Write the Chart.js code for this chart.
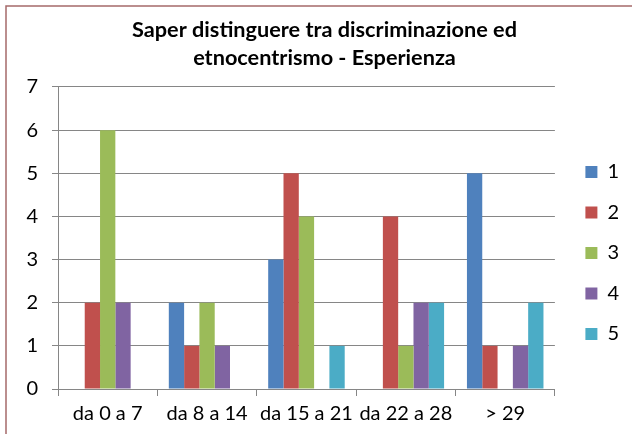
<!DOCTYPE html>
<html>
<head>
<meta charset="utf-8">
<script src="https://cdn.jsdelivr.net/npm/chart.js@4.4.1/dist/chart.umd.min.js"></script>
<style>
    html, body { margin: 0; padding: 0; background: #fff; }
    #wrap { width: 632px; height: 434px; position: relative; }
</style>
</head>
<body>
<div id="wrap"><canvas id="chart" width="632" height="434"></canvas></div>
<script>
// data
const categories = ['da 0 a 7', 'da 8 a 14', 'da 15 a 21', 'da 22 a 28', '> 29'];
const seriesNames = ['1', '2', '3', '4', '5'];
const serie1 = [0, 2, 3, 0, 5];
const serie2 = [2, 1, 5, 4, 1];
const serie3 = [6, 2, 4, 1, 0];
const serie4 = [2, 1, 0, 2, 1];
const serie5 = [0, 0, 1, 2, 2];
const yTicks = [0, 1, 2, 3, 4, 5, 6, 7];

const colors = ['#4F81BD', '#C0504D', '#9BBB59', '#8064A2', '#4BACC6'];
const values = [serie1, serie2, serie3, serie4, serie5];
const FONT = 'Lato, "Open Sans", sans-serif';

// thin reddish frame around the chart (only left/top are visible)
const framePlugin = {
    id: 'frame',
    beforeDraw(chart) {
        const ctx = chart.ctx;
        ctx.save();
        ctx.fillStyle = '#fff';
        ctx.fillRect(0, 0, chart.width, chart.height);
        ctx.strokeStyle = '#A56A6A';
        ctx.lineWidth = 1.5;
        ctx.strokeRect(6, 6, 700, 500);
        ctx.restore();
    }
};

const datasets = seriesNames.map((name, i) => ({
    label: name,
    data: values[i],
    backgroundColor: colors[i],
    borderWidth: 0,
    barPercentage: 1,
    categoryPercentage: 0.77
}));

new Chart('chart', {
    type: 'bar',
    data: { labels: categories, datasets: datasets },
    plugins: [framePlugin],
    options: {
        responsive: false,
        animation: false,
        layout: { padding: { left: 20, right: 3, top: 0, bottom: 2 } },
        plugins: {
            title: {
                display: true,
                text: ['Saper distinguere tra discriminazione ed', 'etnocentrismo - Esperienza'],
                color: '#000',
                font: { family: FONT, size: 21.7, weight: 'bold', lineHeight: 1.29 },
                padding: { top: 16, bottom: 15 }
            },
            legend: {
                position: 'right',
                // empty title only used to push the items down
                title: {
                    display: true,
                    text: ' ',
                    font: { size: 10, lineHeight: 1 },
                    padding: { top: 64, bottom: 0 }
                },
                labels: {
                    color: '#000',
                    font: { family: FONT, size: 20 },
                    boxWidth: 12,
                    boxHeight: 12,
                    padding: 20.5
                }
            },
            tooltip: { enabled: false }
        },
        scales: {
            x: {
                grid: {
                    drawOnChartArea: false,
                    drawTicks: true,
                    tickLength: 7,
                    color: '#868686'
                },
                border: { color: '#868686', width: 1 },
                ticks: {
                    color: '#000',
                    font: { family: FONT, size: 20 },
                    padding: 6,
                    maxRotation: 0,
                    autoSkip: false
                }
            },
            y: {
                min: 0,
                max: 7,
                afterBuildTicks(scale) {
                    scale.ticks = yTicks.map(v => ({ value: v }));
                },
                afterFit(scale) {
                    scale.width = 38;
                },
                grid: {
                    color: '#868686',
                    lineWidth: 1,
                    drawTicks: true,
                    tickLength: 6
                },
                border: { color: '#868686', width: 1 },
                ticks: {
                    color: '#000',
                    font: { family: FONT, size: 20 },
                    padding: 14
                }
            },
            // empty axis, only keeps a gap between plot and legend
            gap: {
                type: 'linear',
                position: 'right',
                display: true,
                grid: { display: false },
                border: { display: false },
                ticks: { display: false },
                afterFit(scale) {
                    scale.width = 10;
                }
            }
        }
    }
});
</script>
</body>
</html>
